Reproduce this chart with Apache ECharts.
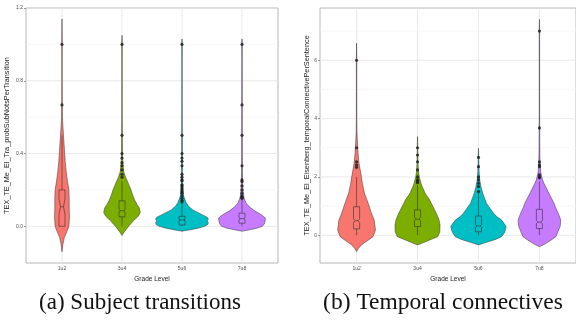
<!DOCTYPE html>
<html>
<head>
<meta charset="utf-8">
<script src="https://cdn.jsdelivr.net/npm/echarts@6/dist/echarts.min.js"></script>
<style>
  html, body { margin: 0; padding: 0; background: #fff; }
  #chart { width: 576px; height: 327px; }
</style>
</head>
<body>
<div id="chart"></div>
<script>
// ---- shared ----
const grades = ['1u2', '3u4', '5u6', '7u8'];
const gradePos = [1, 2, 3, 4];
const fills = ['#F8766D', '#7CAE00', '#00BFC4', '#C77CFF'];

// ---- (a) subject transitions: violin outlines as [value, half-width] ----
const transViolin1u2 = [[-0.14,0],[-0.10,0.015],[-0.06,0.04],[-0.03,0.08],[0.0,0.115],[0.05,0.125],[0.10,0.12],[0.15,0.12],[0.20,0.115],[0.25,0.09],[0.30,0.07],[0.35,0.055],[0.40,0.045],[0.45,0.035],[0.50,0.025],[0.55,0.015],[0.60,0.008],[0.70,0.004],[0.80,0.003],[0.90,0.003],[1.00,0.004],[1.07,0.002],[1.14,0]];
const transViolin3u4 = [[-0.05,0],[-0.03,0.04],[0.0,0.11],[0.03,0.19],[0.055,0.27],[0.075,0.305],[0.10,0.29],[0.12,0.25],[0.145,0.21],[0.17,0.18],[0.20,0.15],[0.24,0.10],[0.27,0.06],[0.30,0.03],[0.33,0.02],[0.36,0.012],[0.40,0.008],[0.50,0.006],[0.60,0.004],[0.80,0.003],[1.00,0.004],[1.03,0.002],[1.05,0]];
const transViolin5u6 = [[-0.027,0],[-0.02,0.12],[-0.01,0.27],[0.0,0.38],[0.01,0.43],[0.02,0.44],[0.03,0.42],[0.04,0.44],[0.05,0.42],[0.06,0.36],[0.075,0.27],[0.09,0.18],[0.11,0.11],[0.13,0.07],[0.15,0.045],[0.17,0.025],[0.20,0.015],[0.25,0.01],[0.30,0.008],[0.40,0.006],[0.50,0.005],[0.70,0.003],[0.90,0.003],[1.00,0.004],[1.02,0.002],[1.03,0]];
const transViolin7u8 = [[-0.027,0],[-0.02,0.11],[-0.01,0.25],[0.0,0.34],[0.015,0.375],[0.03,0.385],[0.045,0.39],[0.06,0.34],[0.072,0.28],[0.085,0.21],[0.10,0.15],[0.115,0.10],[0.13,0.065],[0.15,0.04],[0.17,0.025],[0.20,0.015],[0.25,0.01],[0.30,0.008],[0.40,0.006],[0.50,0.005],[0.70,0.004],[0.90,0.003],[1.00,0.004],[1.02,0.002],[1.03,0]];

// (a) box statistics per grade
const transQ1 = [0.0, 0.052, 0.007, 0.017];
const transMedian = [0.108, 0.086, 0.035, 0.042];
const transQ3 = [0.2, 0.14, 0.055, 0.072];
const transWhiskerLo = [0.0, 0.0, 0.0, 0.0];
const transWhiskerHi = [0.5, 0.25, 0.125, 0.15];
const transNotchLo = [0.065, 0.079, 0.031, 0.037];
const transNotchHi = [0.151, 0.093, 0.039, 0.047];

// (a) outlying points per grade
const transOut1u2 = [0.667, 1.0];
const transOut3u4 = [0.27, 0.286, 0.31, 0.333, 0.35, 0.375, 0.4, 0.5, 1.0];
const transOut5u6 = [0.133, 0.143, 0.154, 0.167, 0.182, 0.19, 0.2, 0.21, 0.222, 0.228, 0.25, 0.255, 0.27, 0.286, 0.333, 0.357, 0.375, 0.4, 0.5, 1.0];
const transOut7u8 = [0.154, 0.16, 0.167, 0.182, 0.2, 0.222, 0.246, 0.255, 0.333, 0.5, 0.667, 1.0];

// ---- (b) temporal connectives ----
const tempViolin1u2 = [[-0.56,0],[-0.45,0.03],[-0.33,0.08],[-0.2,0.17],[-0.05,0.27],[0.18,0.31],[0.52,0.29],[0.75,0.245],[1.1,0.19],[1.44,0.13],[1.78,0.095],[2.0,0.08],[2.24,0.06],[2.47,0.04],[2.8,0.025],[3.27,0.012],[3.6,0.006],[4.0,0.004],[5.0,0.003],[6.0,0.004],[6.3,0.002],[6.58,0]];
const tempViolin3u4 = [[-0.33,0],[-0.25,0.1],[-0.16,0.2],[-0.05,0.33],[0.1,0.365],[0.35,0.37],[0.55,0.35],[0.75,0.31],[1.1,0.225],[1.21,0.2],[1.44,0.125],[1.72,0.065],[2.0,0.03],[2.2,0.015],[2.5,0.008],[3.0,0.004],[3.3,0.002],[3.38,0]];
const tempViolin5u6 = [[-0.33,0],[-0.25,0.12],[-0.15,0.27],[-0.05,0.38],[0.1,0.43],[0.3,0.455],[0.52,0.38],[0.64,0.3],[0.75,0.25],[0.98,0.17],[1.1,0.13],[1.44,0.07],[1.67,0.04],[1.9,0.02],[2.2,0.01],[2.6,0.005],[2.9,0.002],[2.98,0]];
const tempViolin7u8 = [[-0.39,0],[-0.3,0.09],[-0.15,0.2],[-0.05,0.27],[0.3,0.34],[0.52,0.35],[0.75,0.31],[0.98,0.26],[1.1,0.24],[1.44,0.155],[1.78,0.075],[1.9,0.05],[2.18,0.02],[2.5,0.01],[3.0,0.006],[3.7,0.004],[4.5,0.003],[6.0,0.003],[7.0,0.004],[7.3,0.002],[7.4,0]];

const tempQ1 = [0.22, 0.3, 0.12, 0.23];
const tempMedian = [0.5, 0.55, 0.32, 0.45];
const tempQ3 = [0.98, 0.87, 0.66, 0.89];
const tempWhiskerLo = [0.0, 0.0, 0.0, 0.0];
const tempWhiskerHi = [2.0, 1.72, 1.45, 1.85];
const tempNotchLo = [0.43, 0.5, 0.28, 0.39];
const tempNotchHi = [0.57, 0.6, 0.36, 0.51];

const tempOut1u2 = [2.33, 2.41, 2.52, 3.0, 6.0];
const tempOut3u4 = [1.8, 1.85, 1.9, 2.0, 2.24, 2.52, 2.75, 3.0];
const tempOut5u6 = [1.5, 1.67, 1.78, 1.9, 2.0, 2.35, 2.67];
const tempOut7u8 = [1.97, 2.0, 2.07, 2.35, 2.41, 2.52, 3.68, 7.0];

// ---- axis ticks ----
const transTicks = [0, 0.4, 0.8, 1.2];
const transMinor = [0.2, 0.6, 1.0];
const tempTicks = [0, 2, 4, 6];
const tempMinor = [1, 3, 5, 7];

// ---- drawing helpers ----
const INK = '#333333';
const X_MIN = 0.4, X_MAX = 4.6;

function violinSeries(gridIdx, profiles) {
  return {
    type: 'custom',
    xAxisIndex: gridIdx, yAxisIndex: gridIdx,
    z: 3, clip: true, silent: true,
    data: gradePos.map(p => [p, 0]),
    renderItem(params, api) {
      const x = api.value(0);
      const prof = profiles[params.dataIndex];
      const right = prof.map(([v, w]) => api.coord([x + w, v]));
      const left = prof.slice().reverse().map(([v, w]) => api.coord([x - w, v]));
      return {
        type: 'polygon',
        shape: { points: right.concat(left) },
        style: { fill: fills[params.dataIndex], stroke: INK, lineWidth: 0.5 }
      };
    }
  };
}

function boxSeries(gridIdx, q1, med, q3, wLo, wHi, nLo, nHi) {
  return {
    type: 'custom',
    xAxisIndex: gridIdx, yAxisIndex: gridIdx,
    z: 4, clip: true, silent: true,
    data: gradePos.map(p => [p, 0]),
    renderItem(params, api) {
      const i = params.dataIndex;
      const x = api.value(0);
      const hw = 0.05, nw = 0.025;
      const P = (dx, v) => api.coord([x + dx, v]);
      const pts = [P(-hw, q1[i]), P(hw, q1[i]), P(hw, nLo[i]), P(nw, med[i]), P(hw, nHi[i]), P(hw, q3[i]),
                   P(-hw, q3[i]), P(-hw, nHi[i]), P(-nw, med[i]), P(-hw, nLo[i])];
      const st = { stroke: INK, lineWidth: 0.6, fill: null };
      const a = P(0, q3[i]), b = P(0, wHi[i]), c = P(0, q1[i]), d = P(0, wLo[i]);
      const m1 = P(-nw, med[i]), m2 = P(nw, med[i]);
      return {
        type: 'group',
        children: [
          { type: 'line', shape: { x1: a[0], y1: a[1], x2: b[0], y2: b[1] }, style: st },
          { type: 'line', shape: { x1: c[0], y1: c[1], x2: d[0], y2: d[1] }, style: st },
          { type: 'polygon', shape: { points: pts }, style: st },
          { type: 'line', shape: { x1: m1[0], y1: m1[1], x2: m2[0], y2: m2[1] }, style: st }
        ]
      };
    }
  };
}

function pointSeries(gridIdx, lists) {
  const pts = [];
  lists.forEach((vals, k) => vals.forEach(v => pts.push([gradePos[k], v])));
  return {
    type: 'scatter',
    xAxisIndex: gridIdx, yAxisIndex: gridIdx,
    z: 5, silent: true,
    symbolSize: 3.2,
    itemStyle: { color: '#1a1a1a' },
    data: pts
  };
}

// panel grid lines: kind 0 = major horizontal, 1 = minor horizontal, 2 = vertical at each grade
function gridSeries(gridIdx, yMin, yMax, majorY, minorY) {
  const rows = [];
  minorY.forEach(v => rows.push([v, 1]));
  majorY.forEach(v => rows.push([v, 0]));
  gradePos.forEach(v => rows.push([v, 2]));
  return {
    type: 'custom',
    xAxisIndex: gridIdx, yAxisIndex: gridIdx,
    z: 1, clip: true, silent: true,
    encode: { x: -1, y: -1 },
    data: rows,
    renderItem(params, api) {
      const v = api.value(0), kind = api.value(1);
      let p1, p2;
      if (kind === 2) { p1 = api.coord([v, yMin]); p2 = api.coord([v, yMax]); }
      else { p1 = api.coord([X_MIN, v]); p2 = api.coord([X_MAX, v]); }
      return {
        type: 'line',
        shape: { x1: p1[0], y1: p1[1], x2: p2[0], y2: p2[1] },
        style: { stroke: kind === 1 ? '#f3f3f3' : '#e6e6e6', lineWidth: kind === 1 ? 0.7 : 0.9 }
      };
    }
  };
}

const tickLabel = { fontSize: 5, color: '#4d4d4d', fontFamily: 'Liberation Sans' };
const axisTitle = { fontSize: 7.3, color: '#1a1a1a', fontFamily: 'Liberation Sans' };
const xTitle = { fontSize: 6.5, color: '#1a1a1a', fontFamily: 'Liberation Sans' };

function xAxisFor(gridIdx) {
  return {
    type: 'value', gridIndex: gridIdx, min: X_MIN, max: X_MAX,
    name: 'Grade Level', nameLocation: 'middle', nameGap: 11,
    nameTextStyle: xTitle,
    axisLine: { show: false },
    axisTick: { show: true, length: 2, customValues: gradePos, lineStyle: { color: '#555', width: 0.6 } },
    axisLabel: { customValues: gradePos, formatter: v => grades[Math.round(v) - 1], margin: 3, ...tickLabel },
    splitLine: { show: false }
  };
}

function yAxisFor(gridIdx, min, max, ticks, name, gap, digits) {
  return {
    type: 'value', gridIndex: gridIdx, min, max,
    name, nameLocation: 'middle', nameGap: gap,
    nameTextStyle: axisTitle,
    axisLine: { show: false },
    axisTick: { show: true, length: 2, customValues: ticks, lineStyle: { color: '#555', width: 0.6 } },
    axisLabel: { customValues: ticks, formatter: v => v.toFixed(digits), margin: 3, ...tickLabel },
    splitLine: { show: false }
  };
}

const transMin = -0.2017, transMax = 1.2;
const tempMin = -0.95, tempMax = 7.79;

const chart = echarts.init(document.getElementById('chart'), null, { renderer: 'canvas' });
chart.setOption({
  animation: false,
  backgroundColor: '#ffffff',
  grid: [
    { left: 26, top: 8, width: 252, height: 255, show: true, borderColor: '#a6a6a6', borderWidth: 0.8, backgroundColor: '#fff' },
    { left: 320, top: 8, width: 258, height: 255, show: true, borderColor: '#a6a6a6', borderWidth: 0.8, backgroundColor: '#fff' }
  ],
  xAxis: [xAxisFor(0), xAxisFor(1)],
  yAxis: [
    yAxisFor(0, transMin, transMax, transTicks, 'TEX_TE_Me_El_Tra_probSubNotsPerTransition', 15.5, 1),
    yAxisFor(1, tempMin, tempMax, tempTicks, 'TEX_TE_Me_El_Eisenberg_temporalConnectivePerSentence', 9, 0)
  ],
  series: [
    gridSeries(0, transMin, transMax, transTicks, transMinor),
    violinSeries(0, [transViolin1u2, transViolin3u4, transViolin5u6, transViolin7u8]),
    boxSeries(0, transQ1, transMedian, transQ3, transWhiskerLo, transWhiskerHi, transNotchLo, transNotchHi),
    pointSeries(0, [transOut1u2, transOut3u4, transOut5u6, transOut7u8]),
    gridSeries(1, tempMin, tempMax, tempTicks, tempMinor),
    violinSeries(1, [tempViolin1u2, tempViolin3u4, tempViolin5u6, tempViolin7u8]),
    boxSeries(1, tempQ1, tempMedian, tempQ3, tempWhiskerLo, tempWhiskerHi, tempNotchLo, tempNotchHi),
    pointSeries(1, [tempOut1u2, tempOut3u4, tempOut5u6, tempOut7u8])
  ],
  graphic: [
    { type: 'text', silent: true,
      style: { text: '(a) Subject transitions', x: 140, y: 303, align: 'center', verticalAlign: 'middle',
               font: '23px "Liberation Serif"', fill: '#111' } },
    { type: 'text', silent: true,
      style: { text: '(b) Temporal connectives', x: 443, y: 303, align: 'center', verticalAlign: 'middle',
               font: '23.5px "Liberation Serif"', fill: '#111' } }
  ]
});
</script>
</body>
</html>
